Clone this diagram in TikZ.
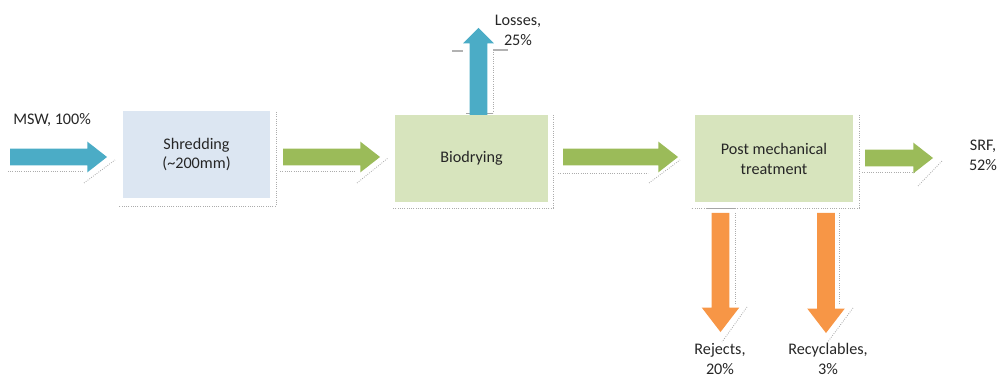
\documentclass[tikz,border=0pt]{standalone}
\usepackage{fontspec}
\setmainfont{Carlito}
\usetikzlibrary{shapes.arrows}

\definecolor{flowblue}{HTML}{4BACC6}
\definecolor{flowgreen}{HTML}{9BBB59}
\definecolor{floworange}{HTML}{F79646}
\definecolor{boxblue}{HTML}{DCE6F2}
\definecolor{boxgreen}{HTML}{D7E4BD}
\definecolor{textgray}{HTML}{262626}

\tikzset{
  stage/.style={rectangle, minimum height=2.175cm, align=center, text=textgray, inner sep=0pt},
  flow/.style={single arrow, anchor=tail, inner xsep=0pt, inner ysep=0.2cm, outer sep=0pt,
    single arrow head extend=0.175cm, minimum width=0.75cm, single arrow tip angle=76},
  upflow/.style={single arrow, anchor=tail, inner ysep=0pt, inner xsep=0.2125cm, outer sep=0pt,
    single arrow head extend=0.1625cm, minimum width=0.75cm, single arrow tip angle=90,
    shape border rotate=90, fill=flowblue},
  outflow/.style={single arrow, anchor=tail, inner ysep=0pt, inner xsep=0.2125cm, outer sep=0pt,
    single arrow head extend=0.25cm, minimum width=0.925cm, single arrow tip angle=75,
    shape border rotate=270, fill=floworange},
  tag/.style={align=center, text=textgray, inner sep=0pt},
  shade/.style={gray!65, densely dotted, line width=0.6pt},
}

\begin{document}
\begin{tikzpicture}[x=0.025cm, y=-0.025cm, every node/.style={font=\fontsize{11.5}{14.2}\selectfont}]
	\useasboundingbox (0,0) rectangle (1000,380);
	% process stages
	\draw[shade] (276,112) -- (276,206) -- (119,206);
	\draw[shade] (553,115) -- (553,208) -- (392,208);
	\draw[shade] (859,115) -- (859,208) -- (691,208);
	\node[stage, fill=boxblue, minimum width=3.675cm] (shred) at (196.5,154.5) {Shredding\\(\textasciitilde200mm)};
	\node[stage, fill=boxgreen, minimum width=3.825cm] (biodry) at (471.5,158.5) {Biodrying};
	\node[stage, fill=boxgreen, minimum width=3.95cm] (pmt) at (774,158.5) {Post mechanical\\treatment};
	% main flow
	\draw[shade] (8,171) -- (83,171);  \draw[shade] (84,183) -- (115,160);
	\draw[shade] (280,171) -- (355,171); \draw[shade] (357,183) -- (388,158);
	\draw[shade] (558,173) -- (648,173); \draw[shade] (649,183) -- (680,160);
	\draw[shade] (862,172) -- (915,172); \draw[shade] (918,186) -- (942,161);
	\node[flow, fill=flowblue, minimum height=2.425cm] (msw) at (10,157) {};
	\node[flow, fill=flowgreen, minimum height=2.425cm] (toBio) at (283,157) {};
	\node[flow, fill=flowgreen, minimum height=2.875cm] (toPmt) at (563,157) {};
	\node[flow, fill=flowgreen, minimum height=1.7cm] (srf) at (865,158) {};
	% losses
	\draw[shade] (493,50) -- (493,113);
	\draw[gray!70, line width=1.2pt] (466,113.5) -- (493,113.5);
	\draw[gray!60, line width=1pt] (452,51) -- (463,51) (493,50) -- (508,50);
	\node[upflow, minimum height=2.175cm] (loss) at (478.5,115) {};
	% rejects and recyclables
	\draw[shade] (735,213) -- (735,305); \draw[shade] (747,307) -- (722,342);
	\draw[shade] (839,213) -- (839,305); \draw[shade] (853,308) -- (827,343);
	\draw[gray!70, line width=1.2pt] (707,208.5) -- (735,208.5);
	\node[outflow, minimum height=2.975cm] (rej) at (720.5,213) {};
	\node[outflow, minimum height=3cm] (rec) at (826,213) {};
	% labels
	\node[tag, anchor=west] (mswLbl) at (13,120) {MSW, 100\%};
	\node[tag] (lossLbl) at (518,30) {Losses,\\25\%};
	\node[tag] (srfLbl) at (983,155) {SRF,\\52\%};
	\node[tag, anchor=south] (rejLbl) at (720,375) {Rejects,\\20\%};
	\node[tag, anchor=south] (recLbl) at (828,375) {Recyclables,\\3\%};
\end{tikzpicture}
\end{document}
